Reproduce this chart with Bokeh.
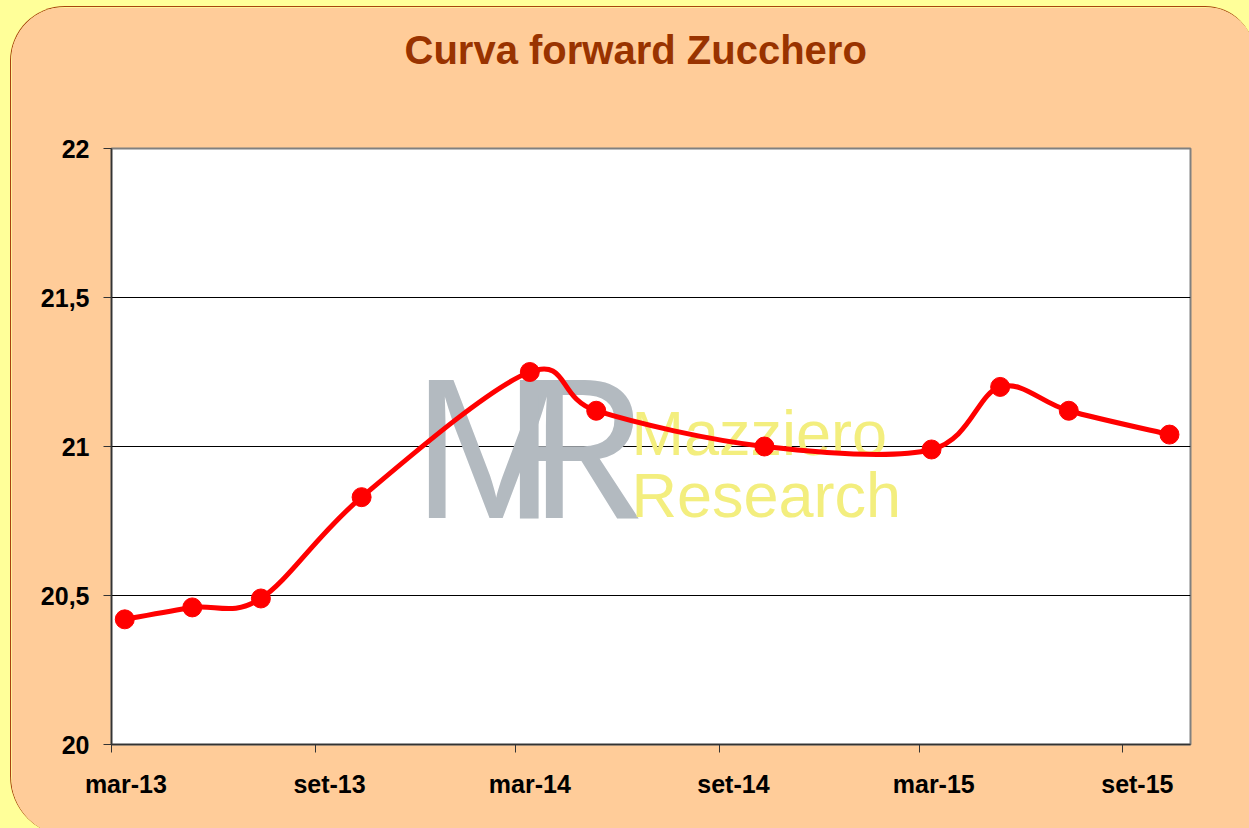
import numpy as np
import pandas as pd
from bokeh.plotting import figure
from bokeh.models import (Range1d, FixedTicker, CustomJSTickFormatter, Label, DatetimeAxis,
                          Title, CustomLabelingPolicy,
                          GlobalInlineStyleSheet, InlineStyleSheet)
from bokeh.embed import file_html
from bokeh.resources import INLINE

# ---------------- data ----------------
chart_title = "Curva forward Zucchero"
contract_dates = ["2013-03-13", "2013-05-13", "2013-07-14", "2013-10-13",
                  "2014-03-14", "2014-05-13", "2014-10-12", "2015-03-12",
                  "2015-05-13", "2015-07-14", "2015-10-13"]
prices = [20.42, 20.46, 20.49, 20.83, 21.25, 21.12, 21.00, 20.99, 21.20, 21.12, 21.04]
x_tick_dates = ["2013-03-01", "2013-09-01", "2014-03-01",
                "2014-09-01", "2015-03-01", "2015-09-01"]
x_start, x_end = "2013-03-01", "2015-11-01"
y_ticks = [20, 20.5, 21, 21.5, 22]
y_tick_labels = ["20", "20,5", "21", "21,5", "22"]
watermark_logo = ["M", "R"]
watermark_words = ["Mazziero", "Research"]


def ms(s):
    return pd.Timestamp(s).value / 1e6


xs = np.array([ms(d) for d in contract_dates])
ys = np.array(prices, dtype=float)

# smoothed (Catmull-Rom style) bezier segments through the data points
n = len(xs)
qx = np.concatenate([[xs[0]], xs, [xs[-1]]])
qy = np.concatenate([[ys[0]], ys, [ys[-1]]])
t = 1.0 / 6.0
cx0 = xs[:-1] + (qx[2:n + 1] - qx[0:n - 1]) * t
cy0 = ys[:-1] + (qy[2:n + 1] - qy[0:n - 1]) * t
cx1 = xs[1:] - (qx[3:n + 2] - qx[1:n]) * t
cy1 = ys[1:] - (qy[3:n + 2] - qy[1:n]) * t

W, H = 1245, 830
p = figure(width=W, height=H, output_backend="svg", toolbar_location=None,
           title=None, x_axis_type="datetime",
           x_range=Range1d(ms(x_start), ms(x_end)),
           y_range=Range1d(y_ticks[0], y_ticks[-1]),
           min_border_left=100, min_border_right=66,
           min_border_top=141, min_border_bottom=93)

p.border_fill_color = "#FFCC99"
p.background_fill_color = "white"
p.outline_line_color = "#808080"
p.outline_line_width = 2

p.stylesheets = [
    GlobalInlineStyleSheet(css="html, body { background-color: #FFFF99; overflow: hidden; }"),
    InlineStyleSheet(css=":host { margin-left: 10px; margin-top: 6px; "
                         "border-radius: 55px 50px 0 60px; overflow: hidden; "
                         "border-top: 1.5px solid #A8430F; border-left: 1.5px solid #A8430F; }"),
]

hide_labels_js = """
for (const i of indices) { indices.unset(i) }
return indices
"""

# axes
month_js = """
const m = ['gen','feb','mar','apr','mag','giu','lug','ago','set','ott','nov','dic'];
const d = new Date(tick);
return m[d.getUTCMonth()] + '-' + String(d.getUTCFullYear()).slice(2);
"""
xa = p.below[0]          # tick marks only
ya = p.left[0]
xa.ticker = FixedTicker(ticks=[ms(d) for d in x_tick_dates])
xa.major_label_policy = CustomLabelingPolicy(code=hide_labels_js)
xa.major_label_text_font_size = "1px"
xa.major_label_standoff = 0

# label-only axis, labels sit slightly right of the month ticks as in the original
xl = DatetimeAxis(ticker=FixedTicker(ticks=[ms(d) + 13 * 86400000 for d in x_tick_dates]),
                  formatter=CustomJSTickFormatter(code=month_js))
xl.axis_line_color = None
xl.major_tick_line_color = None
xl.minor_tick_line_color = None
xl.major_tick_out = 0
xl.major_tick_in = 0
xl.minor_tick_out = 0
xl.major_label_standoff = 13
p.add_layout(xl, "below")

ya.ticker = FixedTicker(ticks=y_ticks)
ya.major_label_overrides = {v: lab for v, lab in zip(y_ticks, y_tick_labels)}

for ax in (xa, ya):
    ax.major_tick_out = 8
    ax.major_tick_in = 0
    ax.minor_tick_out = 0
    ax.minor_tick_in = 0
    ax.axis_line_color = "#333333"
    ax.axis_line_width = 1.5
    ax.major_tick_line_color = "#333333"
for ax in (xl, ya):
    ax.major_label_text_font = "Liberation Sans"
    ax.major_label_text_font_style = "bold"
    ax.major_label_text_font_size = "25px"
    ax.major_label_text_color = "black"
ya.major_label_standoff = 14

# invisible spacer axis above the frame, then the title on top of it
spacer = DatetimeAxis(ticker=FixedTicker(ticks=[ms(d) for d in x_tick_dates]))
spacer.major_label_policy = CustomLabelingPolicy(code=hide_labels_js)
spacer.major_label_text_font_size = "1px"
spacer.major_label_standoff = 0
spacer.axis_line_color = None
spacer.major_tick_line_color = None
spacer.minor_tick_line_color = None
spacer.major_tick_out = 73
spacer.major_tick_in = 0
spacer.minor_tick_out = 0
spacer.minor_tick_in = 0
p.add_layout(spacer, "above")

p.add_layout(Title(text=chart_title, align="left", offset=293, standoff=0,
                   text_font="Liberation Sans", text_font_style="bold",
                   text_font_size="40px", text_color="#993300"), "above")

p.xgrid.grid_line_color = None
p.ygrid.grid_line_color = "black"
p.ygrid.grid_line_width = 1
p.ygrid.ticker = FixedTicker(ticks=y_ticks)

# watermark (frame-relative screen units)
wm = dict(x_units="screen", y_units="screen", text_font="Liberation Sans",
          text_baseline="alphabetic", level="underlay")
p.add_layout(Label(x=301, y=296, text=watermark_logo[0], text_font_size="200px",
                   text_color="#B3BAC0", **wm))
p.add_layout(Label(x=392, y=296, text=watermark_logo[1], text_font_size="200px",
                   text_color="#B3BAC0", **wm))
p.add_layout(Label(x=520, y=312, text=watermark_words[0], text_font_size="63px",
                   text_color="#F3EE7E", **wm))
p.add_layout(Label(x=520, y=250, text=watermark_words[1], text_font_size="63px",
                   text_color="#F3EE7E", **wm))

# data
p.bezier(x0=xs[:-1], y0=ys[:-1], x1=xs[1:], y1=ys[1:],
         cx0=cx0, cy0=cy0, cx1=cx1, cy1=cy1,
         line_color="#FF0000", line_width=5, line_cap="round")
p.scatter(xs, ys, size=19, color="#FF0000")

open("out.html", "w").write(file_html(p, INLINE))
